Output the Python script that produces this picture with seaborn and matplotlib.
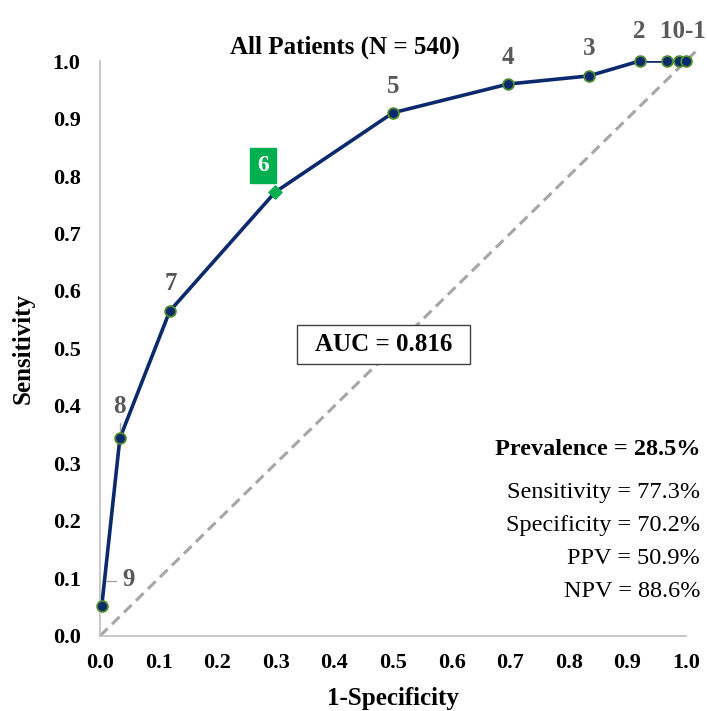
import matplotlib
matplotlib.use("Agg")
from matplotlib import pyplot as plt
from matplotlib.patches import Rectangle
import pandas as pd
import seaborn as sns

# ROC points (cut-off score labels next to them)
fpr = [0.003, 0.034, 0.119, 0.299, 0.500, 0.697, 0.834, 0.921, 0.967, 0.988, 1.000]
tpr = [0.052, 0.344, 0.565, 0.772, 0.910, 0.960, 0.974, 1.000, 1.000, 1.000, 1.000]
cut_labels = ["9", "8", "7", "6", "5", "4", "3", "2", "", "10-1", ""]
best_idx = 3

ticks = [0.0, 0.1, 0.2, 0.3, 0.4, 0.5, 0.6, 0.7, 0.8, 0.9, 1.0]
stats_title = "Prevalence = 28.5%"
stats_lines = ["Sensitivity = 77.3%", "Specificity = 70.2%", "PPV = 50.9%", "NPV = 88.6%"]
auc_text = "AUC = 0.816"

navy = "#0B2A6E"
green = "#00B050"
grey_txt = "#595959"

sns.set_style("white")
plt.rcParams['font.family'] = ['Liberation Serif', 'DejaVu Serif']
plt.rcParams['text.color'] = 'black'
plt.rcParams['axes.labelcolor'] = 'black'
plt.rcParams['xtick.color'] = 'black'
plt.rcParams['ytick.color'] = 'black'

df = pd.DataFrame({"fpr": fpr, "tpr": tpr, "label": cut_labels})

fig = plt.figure(figsize=(7.07, 7.11), dpi=100)
ax = fig.add_axes([0.1414, 0.1055, 0.8289, 0.8087])

# chance line
ax.plot([0, 1.02], [0, 1.02], ls=(0, (3.5, 2)), color="#A6A6A6", lw=2.2, zorder=1, clip_on=False)

sns.lineplot(data=df, x="fpr", y="tpr", sort=False, color=navy, lw=2.6, ax=ax, zorder=2)
others = df.drop(index=best_idx)
sns.scatterplot(data=others, x="fpr", y="tpr", color=navy, edgecolor="#4E8A2E",
                linewidth=1.3, s=60, ax=ax, zorder=3, clip_on=False)
ax.scatter(df.fpr[best_idx], df.tpr[best_idx], marker="D", s=45, color=green,
           zorder=4)

# point labels
offsets = {"9": (19, 19), "8": (0, 23), "7": (1, 20), "5": (0, 19), "4": (0, 19),
           "3": (0, 20), "2": (0, 21), "10-1": (3, 21)}
lab_font = dict(fontsize=18, fontweight="bold", color=grey_txt, ha="center", va="center")
for i, row in df.iterrows():
    lab = row["label"]
    if lab == "" or i == best_idx:
        continue
    dx, dy = offsets[lab]
    ax.annotate(lab, (row.fpr, row.tpr), xytext=(dx, dy), textcoords="offset points",
                annotation_clip=False, **lab_font)
# leader lines for 9 and 8
ax.plot([df.fpr[0] + 0.007, df.fpr[0] + 0.024], [df.tpr[0] + 0.044] * 2,
        color="#A6A6A6", lw=1)
ax.plot([df.fpr[1]] * 2, [df.tpr[1] + 0.012, df.tpr[1] + 0.026],
        color="#A6A6A6", lw=1)
ax.annotate(df.label[best_idx], (df.fpr[best_idx], df.tpr[best_idx]), xytext=(-9, 19),
            textcoords="offset points", fontsize=17, fontweight="bold", color="white",
            ha="center", va="center",
            bbox=dict(boxstyle="square,pad=0.3", fc=green, ec=green))

# AUC box
ax.add_patch(Rectangle((0.336, 0.473), 0.295, 0.068, fc="white", ec="#404040", lw=1, zorder=5))
ax.text(0.484, 0.507, auc_text, fontsize=18, fontweight="bold", ha="center", va="center",
        zorder=6)

# stats block
ax.text(1.024, 0.325, stats_title, fontsize=17.5, fontweight="bold", ha="right", va="center")
for k, line in enumerate(stats_lines):
    ax.text(1.024, 0.249 - k * 0.057, line, fontsize=17.5, ha="right", va="center")

ax.set_xlim(0, 1)
ax.set_ylim(0, 1)
ax.set_xticks(ticks)
ax.set_yticks(ticks)
ax.set_xticklabels([f"{t:.1f}" for t in ticks], fontsize=16, fontweight="bold")
ax.set_yticklabels([f"{t:.1f}" for t in ticks], fontsize=16, fontweight="bold")
ax.tick_params(axis="x", length=0, pad=12)
ax.tick_params(axis="y", length=0, pad=14)
ax.set_xlabel("1-Specificity", fontsize=18, fontweight="bold", labelpad=10)
ax.set_ylabel("Sensitivity", fontsize=18, fontweight="bold", labelpad=13)
fig.text(345 / 707, 1 - 47 / 711, "All Patients (N = 540)", fontsize=18, fontweight="bold",
         ha="center", va="center")
sns.despine(ax=ax)
for side in ["left", "bottom"]:
    ax.spines[side].set_color("#BFBFBF")
    ax.spines[side].set_linewidth(1.2)

fig.savefig("out.png", dpi=100)
